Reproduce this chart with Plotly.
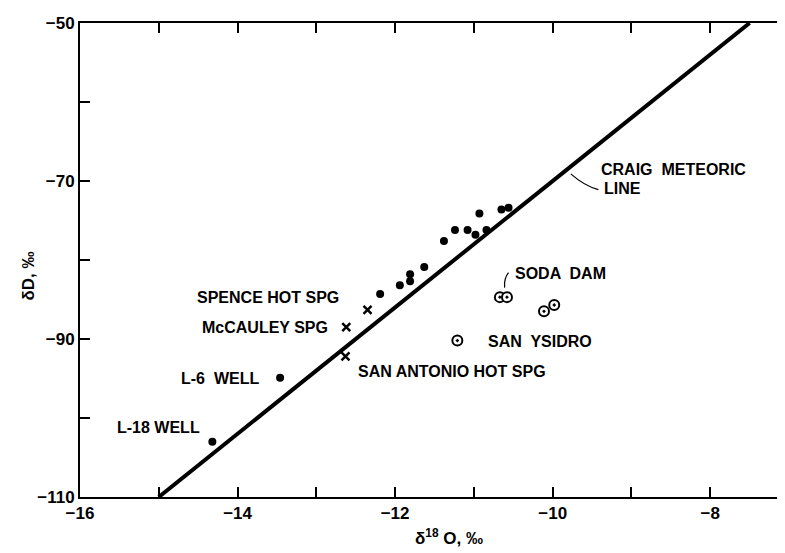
import plotly.graph_objects as go

# Filled circles (wells and springs)
dot_o18 = [-14.32, -13.46, -12.19, -11.94, -11.81, -11.81, -11.63, -11.38, -11.24,
           -11.08, -10.98, -10.93, -10.84, -10.65, -10.56]
dot_dd = [-103.0, -94.9, -84.3, -83.2, -81.8, -82.7, -80.9, -77.6, -76.2,
          -76.2, -76.8, -74.1, -76.2, -73.6, -73.4]

# x markers (hot springs)
x_o18 = [-12.35, -12.62, -12.63]
x_dd = [-86.3, -88.5, -92.2]

# circled dots (Soda Dam, San Ysidro)
c_o18 = [-10.67, -10.58, -11.21, -10.11, -9.98]
c_dd = [-84.7, -84.7, -90.2, -86.5, -85.7]

# Craig meteoric line end points
line_o18 = [-15.0, -7.5]
line_dd = [-110.0, -50.0]

# labels
label_text = ["SPENCE HOT SPG", "McCAULEY SPG", "L-6  WELL", "L-18 WELL",
              "SAN ANTONIO HOT SPG", "SODA  DAM", "SAN  YSIDRO",
              "CRAIG  METEORIC", "LINE"]
label_x = [-14.54, -14.48, -14.74, -15.56, -12.50, -10.50, -10.84, -9.41, -9.38]
label_y = [-84.8, -88.5, -95.0, -101.2, -94.1, -81.7, -90.3, -68.6, -70.9]

x_ticks = [-16, -14, -12, -10, -8]
x_ticktext = ["\u221216", "\u221214", "\u221212", "\u221210", "\u22128"]
y_ticks = [-110, -90, -70, -50]
y_ticktext = ["\u2212110", "\u221290", "\u221270", "\u221250"]

FONT = "Liberation Sans"

fig = go.Figure()
fig.add_trace(go.Scatter(x=line_o18, y=line_dd, mode="lines",
                         line=dict(color="black", width=4), hoverinfo="skip"))
fig.add_trace(go.Scatter(x=dot_o18, y=dot_dd, mode="markers",
                         marker=dict(symbol="circle", size=8, color="black")))
fig.add_trace(go.Scatter(x=x_o18, y=x_dd, mode="markers",
                         marker=dict(symbol="x-thin", size=8,
                                     line=dict(color="black", width=2.5))))
fig.add_trace(go.Scatter(x=c_o18, y=c_dd, mode="markers",
                         marker=dict(symbol="circle-dot", size=10, color="white",
                                     line=dict(color="black", width=2))))

for t, xx, yy in zip(label_text, label_x, label_y):
    fig.add_annotation(x=xx, y=yy, text="<b>" + t + "</b>", showarrow=False,
                       xanchor="left", yanchor="middle",
                       font=dict(family=FONT, size=16, color="black"))

# leader lines
fig.add_shape(type="path", path="M -9.77,-69.1 Q -9.6,-70.6 -9.42,-71.1",
              line=dict(color="black", width=1.2))
fig.add_shape(type="path", path="M -10.56,-81.6 Q -10.62,-82.3 -10.61,-83.5",
              line=dict(color="black", width=1.2))

# axis titles
fig.add_annotation(x=0.52, y=-0.085, xref="paper", yref="paper",
                   text="<b>\u03b4<sup>18</sup> O, \u2030</b>", showarrow=False,
                   xanchor="center", yanchor="middle",
                   font=dict(family=FONT, size=17, color="black"))
fig.add_annotation(x=-0.072, y=0.467, xref="paper", yref="paper",
                   text="<b>\u03b4D, \u2030</b>", showarrow=False, textangle=-90,
                   xanchor="center", yanchor="middle",
                   font=dict(family=FONT, size=17, color="black"))

axis_common = dict(showgrid=False, zeroline=False, showline=True, linecolor="black",
                   linewidth=2, mirror="allticks", ticks="inside", ticklen=10,
                   tickwidth=2, tickcolor="black",
                   tickfont=dict(family=FONT, size=17, color="black"))
fig.update_xaxes(range=[-16, -7], tickmode="array", tickvals=x_ticks,
                 ticktext=["<b>" + t + "</b>" for t in x_ticktext],
                 minor=dict(dtick=1, tick0=-16, ticks="inside", ticklen=10,
                            tickwidth=2, tickcolor="black", showgrid=False),
                 **axis_common)
fig.update_yaxes(range=[-110, -50], tickmode="array", tickvals=y_ticks,
                 ticktext=["<b>" + t + "</b>" for t in y_ticktext],
                 minor=dict(dtick=10, tick0=-110, ticks="inside", ticklen=10,
                            tickwidth=2, tickcolor="black", showgrid=False),
                 **axis_common)
fig.update_layout(width=785, height=553, showlegend=False,
                  margin=dict(l=72, r=2, t=15, b=64),
                  paper_bgcolor="white", plot_bgcolor="white")
fig.write_html("out.html")
